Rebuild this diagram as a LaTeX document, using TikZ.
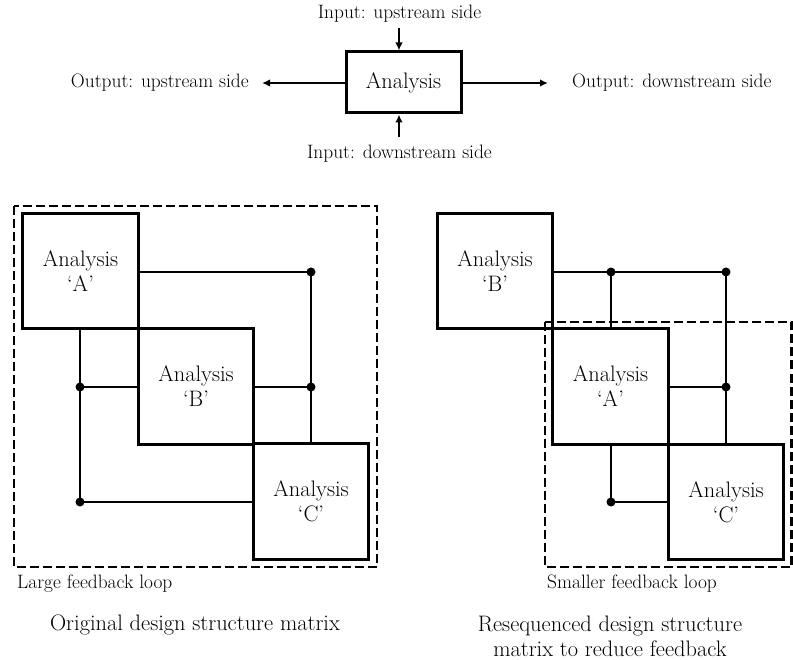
\documentclass[tikz,border=0pt]{standalone}
\usepackage{fontspec}
\usetikzlibrary{arrows.meta}
\tikzset{
  mainfont/.style={font=\fontsize{22.4}{25}\selectfont},
  labfont/.style={font=\fontsize{19.4}{23}\selectfont},
  anbox/.style={draw, line width=3pt, minimum width=115.5pt, minimum height=115.5pt, inner sep=0pt, align=center, mainfont},
  topbox/.style={draw, line width=3pt, minimum width=115pt, minimum height=61pt, inner sep=0pt, mainfont},
  link/.style={line width=1.3pt},
  loopbox/.style={line width=2.2pt, dash pattern=on 9pt off 4pt},
  io/.style={line width=2.4pt, -{Latex[length=8pt,width=7.5pt]}},
  dot/.style={circle, fill=black, inner sep=0pt, minimum size=9pt},
  lab/.style={inner sep=0pt, labfont},
  captext/.style={inner sep=0pt, align=center, mainfont}
}
\begin{document}
\begin{tikzpicture}[x=1pt,y=-1pt]
\useasboundingbox (0,0) rectangle (793,660);

% ---------- top: analysis block ----------
\node[topbox] (an) at (403.5,82.5) {Analysis};
\node[lab] (iu) at (399.5,14) {Input: upstream side};
\node[lab] (id) at (399.5,154) {Input: downstream side};
\node[lab, anchor=east] (ou) at (249,83) {Output: upstream side};
\node[lab, anchor=west] (od) at (572,83) {Output: downstream side};
\coordinate (iuS) at (399,28);
\coordinate (idS) at (399,137);
\coordinate (ouT) at (262,83);
\coordinate (odT) at (548,83);
\draw[io] (iuS) -- (an.north -| iuS);
\draw[io] (idS) -- (an.south -| idS);
\draw[io] (an.west |- ouT) -- (ouT);
\draw[io] (an.east |- odT) -- (odT);

% ---------- left: original DSM ----------
\draw[loopbox] (14,206) rectangle (377,567);
\node[lab, anchor=west] (lfl) at (17,584) {Large feedback loop};

\coordinate (d1) at (311,272);
\coordinate (d2) at (311,387);
\coordinate (d3) at (80,387);
\coordinate (d4) at (80,502);

\node[anbox] (A) at (80.5,271) {Analysis\\`A'};
\node[anbox] (B) at (196,386.5) {Analysis\\`B'};
\node[anbox] (C) at (311,501.5) {Analysis\\`C'};

\draw[link] (d1 -| A.east) -- (d1);
\draw[link] (d1) -- (C.north -| d1);
\draw[link] (d2 -| B.east) -- (d2);
\draw[link] (A.south -| d3) -- (d4);
\draw[link] (d3) -- (d3 -| B.west);
\draw[link] (d4) -- (d4 -| C.west);
\foreach \p in {d1,d2,d3,d4} \node[dot] at (\p) {};

\node[captext] (capL) at (195,625) {Original design structure matrix};

% ---------- right: resequenced DSM ----------
\draw[loopbox] (545,322) rectangle (791.5,567);
\node[lab, anchor=west] (sfl) at (547,584) {Smaller feedback loop};

\coordinate (e1) at (611,272);
\coordinate (e2) at (726,272);
\coordinate (e3) at (726,387);
\coordinate (e4) at (611,502);

\node[anbox] (B2) at (495,271) {Analysis\\`B'};
\node[anbox] (A2) at (610.5,386.5) {Analysis\\`A'};
\node[anbox] (C2) at (726,502) {Analysis\\`C'};

\draw[link] (e2 -| B2.east) -- (e2);
\draw[link] (e1) -- (A2.north -| e1);
\draw[link] (e2) -- (C2.north -| e2);
\draw[link] (e3 -| A2.east) -- (e3);
\draw[link] (A2.south -| e4) -- (e4);
\draw[link] (e4) -- (e4 -| C2.west);
\foreach \p in {e1,e2,e3,e4} \node[dot] at (\p) {};

\node[captext] (capR) at (610,636.5) {Resequenced design structure\\matrix to reduce feedback};
\end{tikzpicture}
\end{document}
